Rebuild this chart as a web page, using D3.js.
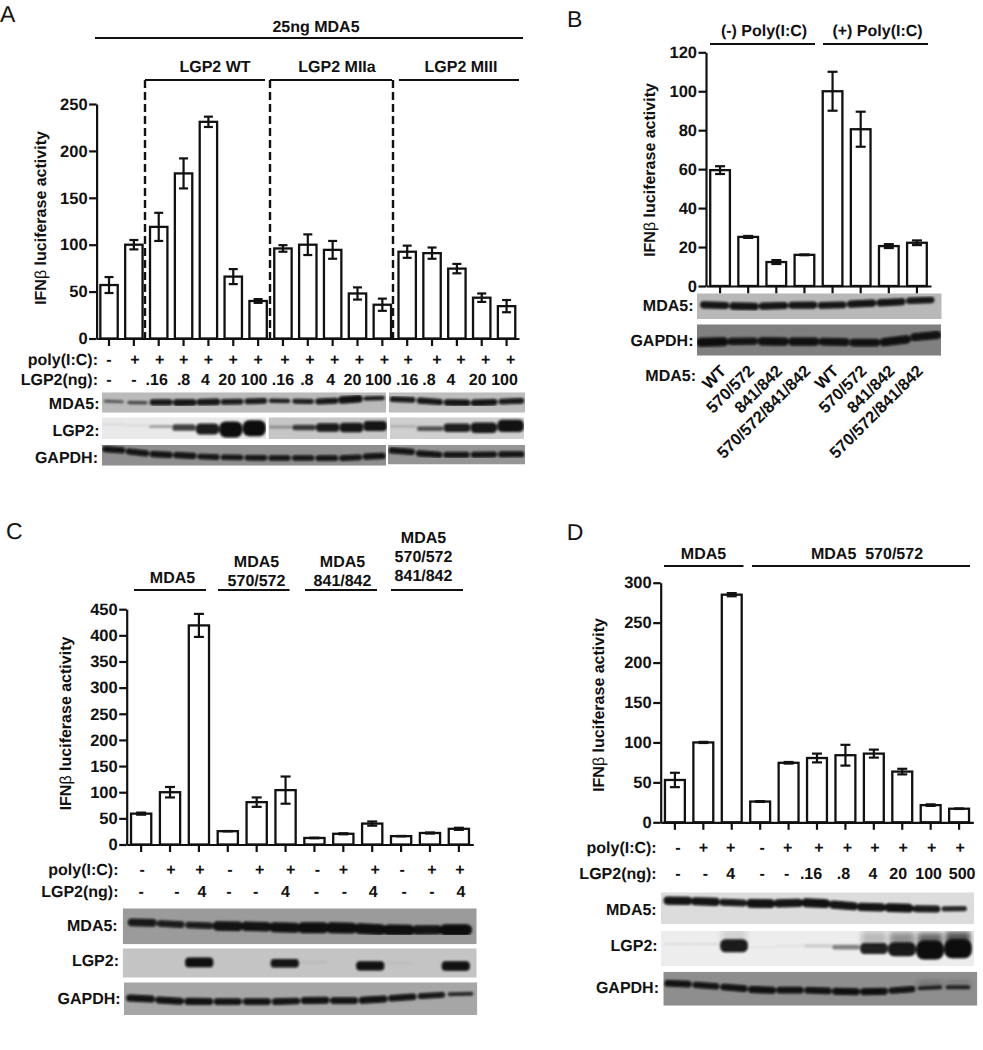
<!DOCTYPE html>
<html><head><meta charset="utf-8">
<script src="https://cdn.jsdelivr.net/npm/d3@7/dist/d3.min.js"></script>
<style>html,body{margin:0;padding:0;background:#fff}svg{display:block}text{font-family:"Liberation Sans",Arial,sans-serif;fill:#111;text-rendering:geometricPrecision}</style>
</head><body><div id="chart"></div>
<script>
// ---------- Panel A data ----------
const aValues=[57,100,119,176,231,66,40,96,100,94.5,48,36,92.5,91,74.5,43.5,34.5];
const aErrors=[8.5,5,15,16,5.5,8,2,3.5,11,9.5,6.5,6.5,6.5,6,5,4.5,6.5];
const aTicks=[0,50,100,150,200,250];
const aPoly=["-","+","+","+","+","+","+","+","+","+","+","+","+","+","+","+","+"];
const aLgp2=["-","-",".16",".8","4","20","100",".16",".8","4","20","100",".16",".8","4","20","100"];
// ---------- Panel B data ----------
const bValues=[59.5,25.2,12.3,16,100,80.5,20.5,22.2];
const bErrors=[2,.5,1,.2,10,9,1,1.2];
const bTicks=[0,20,40,60,80,100,120];
const bMutants=["WT","570/572","841/842","570/572/841/842","WT","570/572","841/842","570/572/841/842"];
// ---------- Panel C data ----------
const cValues=[59,100,419,25.5,81,104,12.5,20.5,40,16,22,30];
const cErrors=[2,10,22,.3,9,26,.5,1,4,.3,1,2];
const cTicks=[0,50,100,150,200,250,300,350,400,450];
const cPoly=["-","+","+","-","+","+","-","+","+","-","+","+"];
const cLgp2=["-","-","4","-","-","4","-","-","4","-","-","4"];
// ---------- Panel D data ----------
const dValues=[53,100,285,26,74.5,80.5,84,86,63.5,21.5,17];
const dErrors=[9,.7,2,.5,1,5.5,13,5,3.5,1,.3];
const dTicks=[0,50,100,150,200,250,300];
const dPoly=["-","+","+","-","+","+","+","+","+","+","+"];
const dLgp2=["-","-","4","-","-",".16",".8","4","20","100","500"];
// ---------- Western blot readings: band strength 0..1 and migration 0(top)..1(bottom) per lane ----------
const aMda5aStrength=[.35,.4,.75,.8,.8,.7,.7,.55,.6,.75,.9,.55];
const aMda5aMigration=[.43,.53,.48,.52,.47,.47,.43,.41,.45,.45,.34,.28];
const aMda5bStrength=[.7,.75,.8,.8,.7];
const aMda5bMigration=[.33,.45,.52,.52,.42];
const aLgp2aStrength=[.05,.05,.2,.48,.74,1,1];
const aLgp2aMigration=[.32,.38,.42,.47,.54,.56,.5];
const aLgp2bStrength=[.2,.48,.72,.78,.82];
const aLgp2bMigration=[.45,.47,.47,.47,.4];
const aLgp2cStrength=[.12,.4,.66,.8,.9];
const aLgp2cMigration=[.42,.52,.48,.48,.4];
const aGapdhaStrength=[.8,.8,.8,.8,.72,.72,.72,.72,.72,.75,.75,.8];
const aGapdhaMigration=[.2,.37,.47,.5,.58,.6,.62,.63,.63,.63,.63,.53];
const aGapdhbStrength=[.8,.8,.8,.78,.78];
const aGapdhbMigration=[.28,.5,.5,.5,.47];
const bMda5Strength=[.82,.85,.82,.82,.8,.82,.82,.75];
const bMda5Migration=[.45,.52,.49,.45,.48,.39,.36,.26];
const bGapdhStrength=[.95,.8,.9,.9,.85,.85,.9,.85];
const bGapdhMigration=[.57,.53,.55,.55,.55,.6,.55,.34];
const cMda5Strength=[.72,.62,.62,.85,.85,.9,.95,.95,.95,.95,.85,1];
const cMda5Migration=[.39,.44,.48,.5,.5,.54,.54,.54,.58,.61,.6,.6];
const cLgp2Strength=[0,0,.95,0,0,.85,.05,0,.9,.03,0,.92];
const cLgp2Migration=[.5,.5,.48,.5,.5,.51,.47,.5,.6,.5,.5,.6];
const cGapdhStrength=[.85,.85,.85,.8,.8,.8,.85,.8,.85,.8,.7,.5];
const cGapdhMigration=[.48,.57,.59,.59,.59,.59,.54,.57,.54,.46,.4,.35];
const dMda5Strength=[.85,.85,.75,.9,.85,.9,.85,.85,.9,.75,.55];
const dMda5Migration=[.26,.29,.32,.36,.34,.32,.42,.47,.48,.53,.51];
const dLgp2Strength=[.05,.05,.75,.03,.04,.12,.3,.66,.8,1,1];
const dLgp2Migration=[.37,.37,.42,.47,.42,.43,.46,.5,.52,.54,.51];
const dLgp2Haze=[0,0,.14,0,0,0,0,.25,.45,.65,.75];
const dGapdhStrength=[.85,.8,.85,.9,.85,.85,.9,.9,.8,.5,.5];
const dGapdhMigration=[.34,.41,.47,.55,.54,.55,.59,.59,.54,.46,.46];
const dGapdhHaze=[0,0,0,0,0,0,0,0,0,.3,.22];

// ---------- Layout (pixels, separate from data) ----------
const W=983,H=1050,FS=16;
const svg=d3.select("#chart").append("svg").attr("width",W).attr("height",H).attr("viewBox",[0,0,W,H]);
const defs=svg.append("defs");
defs.append("filter").attr("id","bandBlur").attr("x","-20%").attr("y","-60%").attr("width","140%").attr("height","220%")
  .append("feGaussianBlur").attr("stdDeviation",1.1);
defs.append("filter").attr("id","hazeBlur").attr("x","-30%").attr("y","-100%").attr("width","160%").attr("height","300%")
  .append("feGaussianBlur").attr("stdDeviation",2.6);
let clipId=0;

function label(t,x,y,o={}){
  const e=svg.append("text").attr("x",x).attr("y",y).text(t)
    .attr("font-size",o.size||FS).attr("font-weight",o.weight||"bold").attr("text-anchor",o.anchor||"middle");
  return e;
}
function rule(x1,x2,y){svg.append("line").attr("x1",x1).attr("x2",x2).attr("y1",y).attr("y2",y).attr("stroke","#111").attr("stroke-width",2);}
function yTitle(x,y){
  const e=svg.append("text").attr("transform",`translate(${x},${y}) rotate(-90)`).attr("text-anchor","middle")
    .attr("font-size",FS).attr("font-weight","bold");
  e.append("tspan").text("IFN");
  e.append("tspan").attr("font-weight","normal").text("β");
  e.append("tspan").text(" luciferase activity");
}
function barChart(p){
  const x=d3.scaleBand().domain(d3.range(p.values.length)).range([p.x0,p.x1]).paddingInner(.3).paddingOuter(.15);
  const y=d3.scaleLinear().domain(p.domain).range([p.y0,p.y1]);
  const g=svg.append("g");
  g.selectAll("rect").data(p.values).join("rect")
    .attr("x",(d,i)=>x(i)).attr("width",x.bandwidth())
    .attr("y",d=>y(d)).attr("height",d=>p.y0-y(d))
    .attr("fill","#fff").attr("stroke","#111").attr("stroke-width",2.3);
  const cx=i=>x(i)+x.bandwidth()/2, cap=p.cap||4.5;
  const eb=g.selectAll("g.eb").data(p.values).join("g").attr("class","eb").attr("stroke","#111").attr("stroke-width",2.2);
  eb.append("line").attr("x1",(d,i)=>cx(i)).attr("x2",(d,i)=>cx(i)).attr("y1",(d,i)=>y(d-p.errors[i])).attr("y2",(d,i)=>y(d+p.errors[i]));
  eb.append("line").attr("x1",(d,i)=>cx(i)-cap).attr("x2",(d,i)=>cx(i)+cap).attr("y1",(d,i)=>y(d-p.errors[i])).attr("y2",(d,i)=>y(d-p.errors[i]));
  eb.append("line").attr("x1",(d,i)=>cx(i)-cap).attr("x2",(d,i)=>cx(i)+cap).attr("y1",(d,i)=>y(d+p.errors[i])).attr("y2",(d,i)=>y(d+p.errors[i]));
  const ya=d3.axisLeft(y).tickValues(p.ticks).tickSize(7.5).tickSizeOuter(0).tickPadding(1.5);
  const yg=svg.append("g").attr("transform",`translate(${p.x0},0)`).call(ya);
  const xa=d3.axisBottom(x).tickFormat("").tickSize(7.5).tickSizeOuter(0);
  const xg=svg.append("g").attr("transform",`translate(0,${p.y0})`).call(xa);
  [yg,xg].forEach(a=>{a.selectAll("path,line").attr("stroke","#111").attr("stroke-width",2.2);});
  yg.selectAll("text").attr("font-size",FS+.5).attr("font-weight","bold").attr("font-family","Liberation Sans");
  return cx;
}
function symbolRow(items,cx,nudges,y){
  svg.append("g").selectAll("text").data(items).join("text")
    .attr("x",(d,i)=>cx(i)+nudges[i]).attr("y",y).attr("text-anchor","middle")
    .attr("font-size",FS).attr("font-weight","bold").text(d=>d);
}
function blot(s){
  const id="clip"+(clipId++);
  defs.append("clipPath").attr("id",id).append("rect").attr("x",s.x0).attr("y",s.y0).attr("width",s.x1-s.x0).attr("height",s.y1-s.y0);
  const g=svg.append("g").attr("clip-path",`url(#${id})`);
  g.append("rect").attr("x",s.x0).attr("y",s.y0).attr("width",s.x1-s.x0).attr("height",s.y1-s.y0).attr("fill",s.bg);
  const lanes=d3.scaleBand().domain(d3.range(s.strength.length)).range([s.lx0||s.x0,s.lx1||s.x1]).paddingInner(.12).paddingOuter(.06);
  const my=d3.scaleLinear().domain([0,1]).range([s.y0,s.y1]);
  const thick=d3.scalePow().exponent(1.5).domain([0,1]).range([1.8,s.tMax]);
  const ink=d3.scaleLinear().domain([0,.6,1]).range([0,.9,1]).clamp(true);
  if(s.haze){
    g.append("g").attr("filter","url(#hazeBlur)").selectAll("rect").data(s.haze).join("rect")
      .attr("x",(d,i)=>lanes(i)).attr("width",lanes.bandwidth())
      .attr("y",(d,i)=>my(s.migration[i])-(s.hazeUp||s.tMax*.95)).attr("height",s.tMax*.7)
      .attr("fill","#222").attr("opacity",d=>d);
  }
  const yAt=i=>my(s.migration[Math.max(0,Math.min(s.migration.length-1,i))]);
  if(s.round){
    const bw=lanes.bandwidth()*1.12, off=(lanes.bandwidth()-bw)/2;
    g.append("g").attr("filter","url(#bandBlur)").selectAll("rect").data(s.strength).join("rect")
      .attr("x",(d,i)=>lanes(i)+off).attr("width",bw)
      .attr("y",(d,i)=>yAt(i)-thick(d)/2).attr("height",d=>thick(d))
      .attr("rx",d=>thick(d)*.4)
      .attr("fill","#080808").attr("opacity",d=>ink(d));
  } else {
    g.append("g").attr("filter","url(#bandBlur)").selectAll("line").data(s.strength).join("line")
      .attr("x1",(d,i)=>lanes(i)+2).attr("x2",(d,i)=>lanes(i)+lanes.bandwidth()-2)
      .attr("y1",(d,i)=>(yAt(i)*2+yAt(i-1))/3).attr("y2",(d,i)=>(yAt(i)*2+yAt(i+1))/3)
      .attr("stroke","#080808").attr("stroke-linecap","round")
      .attr("stroke-width",d=>thick(d)).attr("opacity",d=>ink(d));
  }
}

// ---------- Panel A ----------
label("A",0,22,{size:23,weight:"normal",anchor:"start"});
label("25ng MDA5",316,32);
rule(95,523,38);
[["LGP2 WT",215,145,265],["LGP2 MIIa",337,270,392],["LGP2 MIII",461,399,519]].forEach(([t,c,a,b])=>{label(t,c,72);rule(a,b,80);});
const aCx=barChart({values:aValues,errors:aErrors,ticks:aTicks,domain:[0,250],x0:96.6,x1:519,y0:338.5,y1:104});
[145,270,393].forEach(x=>svg.append("line").attr("x1",x).attr("x2",x).attr("y1",80).attr("y2",338).attr("stroke","#111").attr("stroke-width",2.4).attr("stroke-dasharray","8,4"));
yTitle(46,218);
label("poly(I:C):",98,365,{anchor:"end"});
label("LGP2(ng):",98,385,{anchor:"end"});
symbolRow(aPoly,aCx,[0,1,1,0,0,0,0,2,2,2,2,2,1,5,4,4,4],365);
symbolRow(aLgp2,aCx,[0,0,-2,0,-3,-6,-4,0,-1,-2,-5,-4,0,-3,-6,-4,-2],385);
blot({x0:102,x1:386,y0:392.3,y1:412.7,bg:"#bababa",tMax:8.5,strength:aMda5aStrength,migration:aMda5aMigration});
blot({x0:389,x1:525,y0:392.3,y1:412.7,bg:"#bdbdbd",tMax:8.5,strength:aMda5bStrength,migration:aMda5bMigration});
blot({x0:102,x1:266,y0:417.3,y1:439,bg:"#e9e9e9",tMax:16,round:true,strength:aLgp2aStrength,migration:aLgp2aMigration});
blot({x0:268.5,x1:387,y0:417.3,y1:439,bg:"#c6c6c6",tMax:13,round:true,strength:aLgp2bStrength,migration:aLgp2bMigration});
blot({x0:390,x1:524,y0:417.3,y1:439,bg:"#cfcfcf",tMax:14,round:true,strength:aLgp2cStrength,migration:aLgp2cMigration});
blot({x0:102,x1:386,y0:445,y1:465.7,bg:"#8f8f8f",tMax:8,strength:aGapdhaStrength,migration:aGapdhaMigration});
blot({x0:388,x1:525,y0:445,y1:464.5,bg:"#959595",tMax:8,strength:aGapdhbStrength,migration:aGapdhbMigration});
label("MDA5:",99.5,409,{anchor:"end"});
label("LGP2:",99.5,436,{anchor:"end"});
label("GAPDH:",98,463,{anchor:"end"});

// ---------- Panel B ----------
label("B",567,27,{size:23,weight:"normal",anchor:"start"});
label("(-) Poly(I:C)",764,36);label("(+) Poly(I:C)",877.5,36);
rule(710,815,44);rule(823,928,44);
const bCx=barChart({values:bValues,errors:bErrors,ticks:bTicks,domain:[0,120],x0:706,x1:931,y0:286,y1:52.3,cap:5});
yTitle(655,170);
blot({x0:697,x1:941.7,y0:293.3,y1:319,bg:"#b8b8b8",tMax:9,lx0:700,lx1:935,strength:bMda5Strength,migration:bMda5Migration});
blot({x0:697,x1:941,y0:324.3,y1:355.7,bg:"#808080",tMax:9.5,strength:bGapdhStrength,migration:bGapdhMigration});
label("MDA5:",693.5,311,{anchor:"end"});
label("GAPDH:",693.5,346,{anchor:"end"});
label("MDA5:",696,380.5,{anchor:"end"});
svg.append("g").selectAll("text").data(bMutants).join("text")
  .attr("transform",(d,i)=>`translate(${bCx(i)+7},${372}) rotate(-45)`)
  .attr("text-anchor","end").attr("font-size",FS+.5).attr("font-weight","bold").text(d=>d);

// ---------- Panel C ----------
label("C",6,539,{size:23,weight:"normal",anchor:"start"});
label("MDA5",172.5,583);
label("MDA5",256.5,566.5);label("570/572",256.5,586);
label("MDA5",342.5,566.5);label("841/842",342.5,586);
label("MDA5",423.5,543);label("570/572",423.5,562);label("841/842",423.5,581);
rule(134,206,590);rule(218,289.5,590);rule(305,377,590);rule(391,463,590);
const cCx=barChart({values:cValues,errors:cErrors,ticks:cTicks,domain:[0,450],x0:126.7,x1:473.3,y0:844.5,y1:609.2,cap:5});
yTitle(71,723.5);
label("poly(I:C):",118.5,874.5,{anchor:"end"});
label("LGP2(ng):",118.5,896.5,{anchor:"end"});
symbolRow(cPoly,cCx,[1,1,1,2,3,5,3,0,3,1,2,1],874.5);
symbolRow(cLgp2,cCx,[0,7,3,1,-1,0,2,1,1,3,2,2],896.5);
blot({x0:122.7,x1:476.7,y0:908.3,y1:944.3,bg:"#9b9b9b",tMax:11.5,lx0:128,lx1:470,strength:cMda5Strength,migration:cMda5Migration});
blot({x0:122.7,x1:476.7,y0:948.3,y1:977.7,bg:"#c4c4c4",tMax:10.5,lx0:128,lx1:470,round:true,strength:cLgp2Strength,migration:cLgp2Migration});
blot({x0:124,x1:477.3,y0:982.3,y1:1015,bg:"#a6a6a6",tMax:8.5,lx0:126,lx1:475,strength:cGapdhStrength,migration:cGapdhMigration});
label("MDA5:",117.7,930.5,{anchor:"end"});
label("LGP2:",119,965.5,{anchor:"end"});
label("GAPDH:",120.7,1003.5,{anchor:"end"});

// ---------- Panel D ----------
label("D",566.7,540,{size:23,weight:"normal",anchor:"start"});
label("MDA5",703.5,559);label("MDA5  570/572",867,559).style("white-space","pre");
rule(664,743.5,566);rule(752,970,566);
const dCx=barChart({values:dValues,errors:dErrors,ticks:dTicks,domain:[0,300],x0:660.7,x1:973.3,y0:822.3,y1:582.7,cap:5});
yTitle(604,705);
label("poly(I:C):",656.7,852.5,{anchor:"end"});
label("LGP2(ng):",656.7,878.5,{anchor:"end"});
symbolRow(dPoly,dCx,[3,0,-1,2,-1,2,2,1,1,1,1],852.5);
symbolRow(dLgp2,dCx,[3,2,-1,2,-2,-6,-2,-1,-4,-2,3],878.5);
blot({x0:661,x1:974,y0:892.3,y1:924.3,bg:"#dcdcdc",tMax:10,lx0:664,lx1:968,strength:dMda5Strength,migration:dMda5Migration});
blot({x0:661,x1:974,y0:931,y1:966,bg:"#ededed",tMax:19,lx0:664,lx1:972,round:true,strength:dLgp2Strength,migration:dLgp2Migration,haze:dLgp2Haze,hazeUp:17});
blot({x0:663.3,x1:977.3,y0:971.7,y1:1005.7,bg:"#8e8e8e",tMax:8,lx0:664,lx1:972,strength:dGapdhStrength,migration:dGapdhMigration,haze:dGapdhHaze,hazeUp:6});
label("MDA5:",656.7,914.5,{anchor:"end"});
label("LGP2:",657.7,950.5,{anchor:"end"});
label("GAPDH:",659,992.5,{anchor:"end"});
</script></body></html>
